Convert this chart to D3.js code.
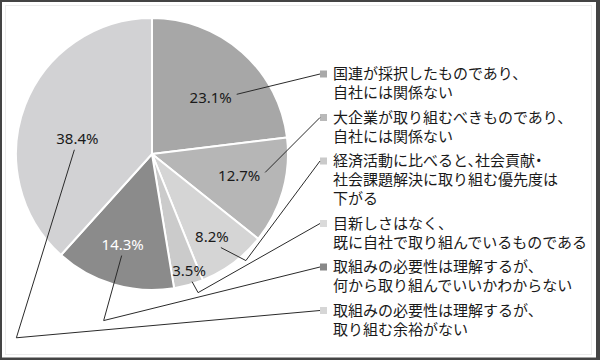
<!DOCTYPE html>
<html>
<head>
<meta charset="utf-8">
<script src="https://cdn.jsdelivr.net/npm/d3@7"></script>
<style>
  body { margin: 0; background: #fff; }
  svg { display: block; }
  .legend text { font-feature-settings: "halt" 1; }
</style>
</head>
<body>
<div id="chart"></div>
<script>
// data
var values = [23.1, 12.7, 8.2, 3.5, 14.3, 38.4];
var labels = ["23.1%", "12.7%", "8.2%", "3.5%", "14.3%", "38.4%"];
var legendLines = [
  ["国連が採択したものであり、", "自社には関係ない"],
  ["大企業が取り組むべきものであり、", "自社には関係ない"],
  ["経済活動に比べると、社会貢献・", "社会課題解決に取り組む優先度は", "下がる"],
  ["目新しさはなく、", "既に自社で取り組んでいるものである"],
  ["取組みの必要性は理解するが、", "何から取り組んでいいかわからない"],
  ["取組みの必要性は理解するが、", "取り組む余裕がない"]
];
var colors = ["#a7a7a7", "#b6b6b6", "#d5d5d5", "#cbcbcb", "#8b8b8b", "#d2d2d4"];
var legendColors = ["#a9a9a9", "#b9b9b9", "#cacaca", "#dadada", "#888888", "#d6d6d6"];

// layout of labels / leaders (not data)
var labelRadius = [0.6, 0.66, 0.75, 0.9, 0.7, 0.56];
var labelShift = [4.5, -2, 0.7, -2, 1.6, -9.5]; // degrees
var leaderStart = [[26, -3], [26, -3], [9, 11], [3, 11], [-1, 11], [-3, 11]];
var leaderKink = [null, null, [25, 13], [6, 11], [-18, 65], [-58, 188]];

var width = 600, height = 360;
var cx = 152, cy = 154, radius = 136;

var svg = d3.select("#chart").append("svg")
    .attr("width", width)
    .attr("height", height);

// frame
svg.append("rect").attr("width", width).attr("height", height).attr("fill", "#444");
svg.append("rect").attr("x", 2).attr("y", 2).attr("width", 594).attr("height", 355.5).attr("fill", "#fff");
svg.append("rect").attr("x", 5.5).attr("y", 5.5).attr("width", 586).attr("height", 349)
    .attr("fill", "none").attr("stroke", "#ececec").attr("stroke-width", 1);

var g = svg.append("g").attr("transform", "translate(" + cx + "," + cy + ")");

var pie = d3.pie().sort(null).value(function(d) { return d; });
var arc = d3.arc().innerRadius(0).outerRadius(radius);
var arcs = pie(values);

g.selectAll("path.slice")
  .data(arcs)
  .join("path")
    .attr("class", "slice")
    .attr("d", arc)
    .attr("fill", function(d, i) { return colors[i]; })
    .attr("stroke", "#fff")
    .attr("stroke-width", 2)
    .attr("stroke-linejoin", "round");

function labelPos(d, i) {
  var a = (d.startAngle + d.endAngle) / 2 + labelShift[i] * Math.PI / 180;
  var r = radius * labelRadius[i];
  return [cx + Math.sin(a) * r, cy - Math.cos(a) * r];
}

// legend
var legendX = 320, textX = 333;
var lineH = 19, itemGap = 24.5;
var legendY = [];
var y0 = 74;
legendLines.forEach(function(lines) {
  legendY.push(y0);
  y0 += (lines.length - 1) * lineH + itemGap;
});

var legend = svg.append("g").attr("class", "legend");
legendLines.forEach(function(lines, i) {
  legend.append("rect")
    .attr("x", legendX)
    .attr("y", legendY[i] - 3.5)
    .attr("width", 7)
    .attr("height", 7)
    .attr("fill", legendColors[i]);
  var t = legend.append("text")
    .attr("font-family", "'Noto Sans CJK JP', sans-serif")
    .attr("font-size", 15)
    .attr("fill", "#1a1a1a");
  t.selectAll("tspan")
    .data(lines)
    .join("tspan")
      .attr("x", textX)
      .attr("y", function(d, j) { return legendY[i] + j * lineH; })
      .attr("dy", "0.36em")
      .text(function(d) { return d; });
});

// leader lines
arcs.forEach(function(d, i) {
  var p = labelPos(d, i);
  var s = [p[0] + leaderStart[i][0], p[1] + leaderStart[i][1]];
  var pts = [s];
  if (leaderKink[i]) pts.push([s[0] + leaderKink[i][0], s[1] + leaderKink[i][1]]);
  pts.push([legendX, legendY[i]]);
  svg.append("path")
    .attr("d", d3.line()(pts))
    .attr("fill", "none")
    .attr("stroke", "#2a2a2a")
    .attr("stroke-width", 1);
});

// slice labels
svg.selectAll("text.lbl")
  .data(arcs)
  .join("text")
    .attr("class", "lbl")
    .attr("x", function(d, i) { return labelPos(d, i)[0]; })
    .attr("y", function(d, i) { return labelPos(d, i)[1]; })
    .attr("dy", "0.36em")
    .attr("text-anchor", "middle")
    .attr("font-family", "'Noto Sans', sans-serif")
    .attr("font-size", 15)
    .attr("fill", function(d, i) { return i === 4 ? "#fff" : "#1a1a1a"; })
    .text(function(d, i) { return labels[i]; });
</script>
</body>
</html>
